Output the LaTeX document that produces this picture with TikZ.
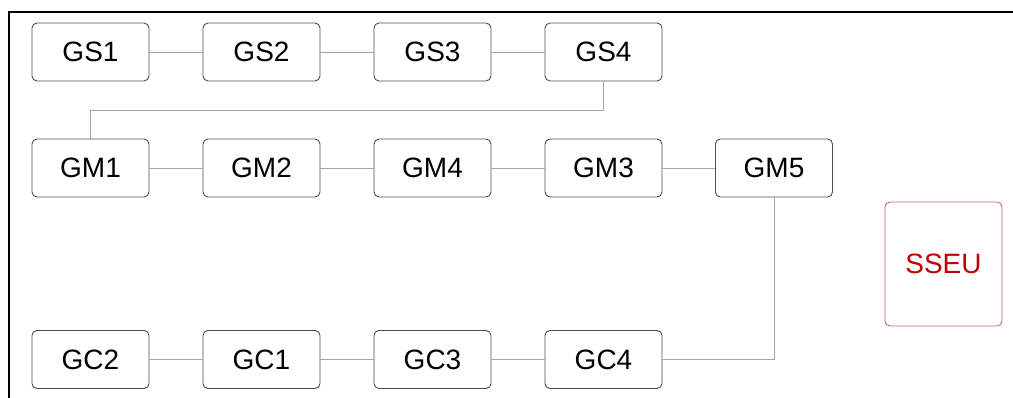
\documentclass[tikz,border=0pt]{standalone}
\usepackage{fontspec}
\setmainfont{Liberation Sans}
\begin{document}
\begin{tikzpicture}[x=1pt,y=1pt,
  box/.style={draw=black!70, line width=0.9pt, rounded corners=5pt, minimum width=117pt, minimum height=58pt, inner sep=0pt, font=\fontsize{28}{30}\selectfont, text=black},
  redbox/.style={box, draw=red!60!black!60, minimum height=124pt, text=red!75!black},
  link/.style={draw=black!35, line width=0.9pt}]
\useasboundingbox (0,0) rectangle (1013,-398);
\draw[line width=2pt] (9,-399) -- (9,-12) -- (1014,-12);
% row GS
\node[box] (GS1) at (90.5,-52) {GS1};
\node[box] (GS2) at (261.5,-52) {GS2};
\node[box] (GS3) at (432.5,-52) {GS3};
\node[box] (GS4) at (603.5,-52) {GS4};
% row GM
\node[box] (GM1) at (90.5,-168) {GM1};
\node[box] (GM2) at (261.5,-168) {GM2};
\node[box] (GM4) at (432.5,-168) {GM4};
\node[box] (GM3) at (603.5,-168) {GM3};
\node[box] (GM5) at (774,-168) {GM5};
% row GC
\node[box] (GC2) at (90.5,-359.5) {GC2};
\node[box] (GC1) at (261.5,-359.5) {GC1};
\node[box] (GC3) at (432.5,-359.5) {GC3};
\node[box] (GC4) at (603.5,-359.5) {GC4};
% SSEU
\node[redbox] (SSEU) at (943.5,-264) {SSEU};
% connectors
\draw[link] (GS1) -- (GS2);
\draw[link] (GS2) -- (GS3);
\draw[link] (GS3) -- (GS4);
\coordinate (b1) at (603.5,-110);
\coordinate (b2) at (90.5,-110);
\draw[link] (GS4.south) -- (b1) -- (b2) -- (GM1.north);
\draw[link] (GM1) -- (GM2);
\draw[link] (GM2) -- (GM4);
\draw[link] (GM4) -- (GM3);
\draw[link] (GM3) -- (GM5);
\draw[link] (GM5.south) |- (GC4.east);
\draw[link] (GC2) -- (GC1);
\draw[link] (GC1) -- (GC3);
\draw[link] (GC3) -- (GC4);
\end{tikzpicture}
\end{document}
